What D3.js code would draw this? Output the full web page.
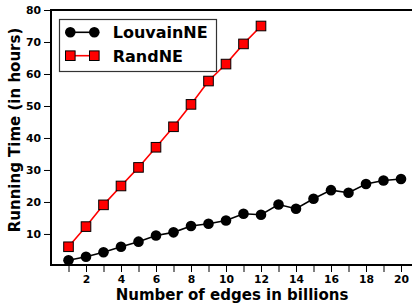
<!DOCTYPE html>
<html>
<head>
<meta charset="utf-8">
<script src="https://cdn.jsdelivr.net/npm/d3@7"></script>
<style>
  body { margin: 0; background: #fff; }
  text { font-family: "DejaVu Sans", sans-serif; font-weight: bold; }
</style>
</head>
<body>
<script>
// data
const edges = d3.range(1, 21);
const louvainNE = [1.8, 2.9, 4.3, 6.0, 7.6, 9.5, 10.5, 12.5, 13.2, 14.2,
  16.3, 16.0, 19.2, 17.9, 21.0, 23.7, 22.9, 25.6, 26.7, 27.2];
const randNE = [6.0, 12.3, 19.1, 25.0, 30.8, 37.1, 43.5, 50.5, 57.8, 63.1, 69.4, 75.0];
const xTicks = d3.range(1, 22);
const yTicks = [10, 20, 30, 40, 50, 60, 70, 80];

const width = 412, height = 303;
const margin = { top: 10, left: 51, bottom: 265, right: 418.5 };

const svg = d3.select("body").append("svg")
  .attr("width", width)
  .attr("height", height);

const x = d3.scaleLinear().domain([0, 21]).range([margin.left, margin.right]);
const y = d3.scaleLinear().domain([0.3, 80]).range([margin.bottom, margin.top]);

// axes
const xAxis = d3.axisBottom(x)
  .tickValues(xTicks)
  .tickFormat(d => (d % 2 === 0 ? d : ""))
  .tickSize(7)
  .tickPadding(3);
const yAxis = d3.axisLeft(y)
  .tickValues(yTicks)
  .tickSize(7)
  .tickPadding(3);

const gx = svg.append("g")
  .attr("transform", "translate(0," + margin.bottom + ")")
  .call(xAxis);
const gy = svg.append("g")
  .attr("transform", "translate(" + margin.left + ",0)")
  .call(yAxis);
[gx, gy].forEach(g => {
  g.select(".domain").remove();
  g.selectAll("line").attr("stroke", "#000").attr("stroke-width", 1);
  g.selectAll("text")
    .attr("fill", "#000")
    .style("font-size", "10.8px")
    .style("font-family", "DejaVu Sans, sans-serif")
    .style("font-weight", "bold");
});

// series
const line = d3.line().x((d, i) => x(edges[i])).y(d => y(d));

svg.append("path")
  .datum(louvainNE)
  .attr("d", line)
  .attr("fill", "none")
  .attr("stroke", "#000")
  .attr("stroke-width", 1.6);
svg.append("g").selectAll("circle")
  .data(louvainNE)
  .join("circle")
  .attr("cx", (d, i) => x(edges[i]))
  .attr("cy", d => y(d))
  .attr("r", 5.3)
  .attr("fill", "#000");

svg.append("path")
  .datum(randNE)
  .attr("d", line)
  .attr("fill", "none")
  .attr("stroke", "#ff0000")
  .attr("stroke-width", 1.6);
const sq = 9.6;
svg.append("g").selectAll("rect")
  .data(randNE)
  .join("rect")
  .attr("x", (d, i) => x(edges[i]) - sq / 2)
  .attr("y", d => y(d) - sq / 2)
  .attr("width", sq)
  .attr("height", sq)
  .attr("fill", "#ff0000")
  .attr("stroke", "#000")
  .attr("stroke-width", 1);

// frame
svg.append("rect")
  .attr("x", margin.left)
  .attr("y", margin.top)
  .attr("width", margin.right - margin.left)
  .attr("height", margin.bottom - margin.top)
  .attr("fill", "none")
  .attr("stroke", "#000")
  .attr("stroke-width", 2);

// axis labels
svg.append("text")
  .attr("x", 232)
  .attr("y", 300)
  .attr("text-anchor", "middle")
  .style("font-size", "15px")
  .text("Number of edges in billions");
svg.append("text")
  .attr("transform", "translate(19.5,130) rotate(-90)")
  .attr("text-anchor", "middle")
  .style("font-size", "15px")
  .text("Running Time (in hours)");

// legend
const legend = svg.append("g");
legend.append("rect")
  .attr("x", 59.5)
  .attr("y", 19.5)
  .attr("width", 157)
  .attr("height", 52)
  .attr("fill", "#fff")
  .attr("stroke", "#333")
  .attr("stroke-width", 1.2);

const entries = [
  { name: "LouvainNE", color: "#000", shape: "circle", cy: 32.3 },
  { name: "RandNE", color: "#ff0000", shape: "square", cy: 55.7 }
];
entries.forEach(e => {
  legend.append("line")
    .attr("x1", 70.3).attr("x2", 94.3)
    .attr("y1", e.cy).attr("y2", e.cy)
    .attr("stroke", e.color)
    .attr("stroke-width", 1.6);
  [70.3, 94.3].forEach(cx => {
    if (e.shape === "circle") {
      legend.append("circle")
        .attr("cx", cx).attr("cy", e.cy).attr("r", 5.3)
        .attr("fill", "#000");
    } else {
      legend.append("rect")
        .attr("x", cx - sq / 2).attr("y", e.cy - sq / 2)
        .attr("width", sq).attr("height", sq)
        .attr("fill", "#ff0000")
        .attr("stroke", "#000")
        .attr("stroke-width", 1);
    }
  });
  legend.append("text")
    .attr("x", 112.7)
    .attr("y", e.cy + 6)
    .style("font-size", "16px")
    .text(e.name);
});
</script>
</body>
</html>
